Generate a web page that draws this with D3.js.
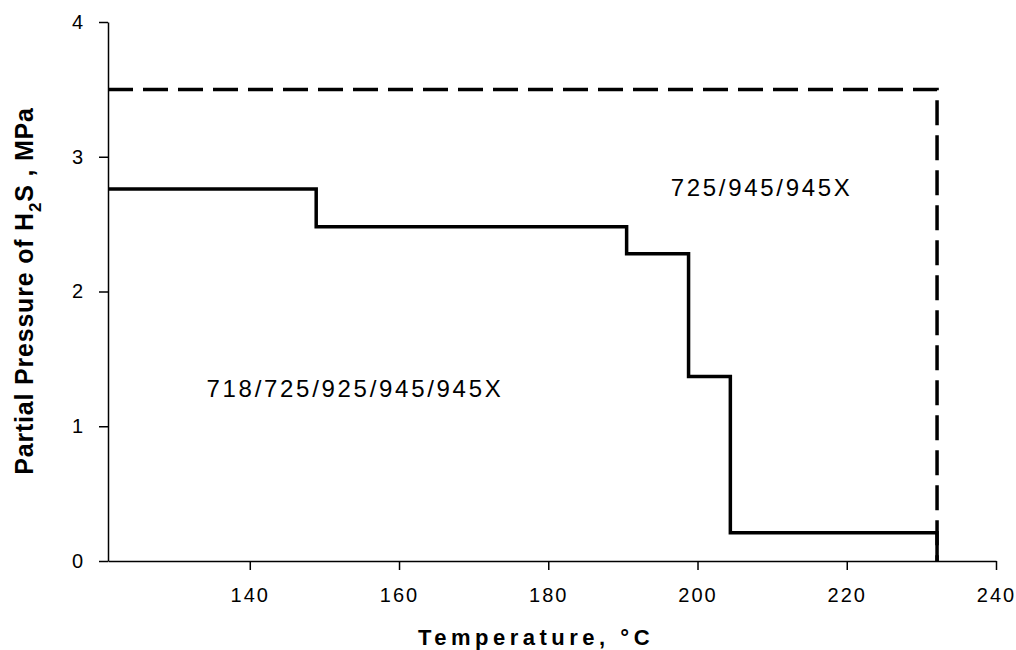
<!DOCTYPE html>
<html>
<head>
<meta charset="utf-8">
<script src="https://cdn.jsdelivr.net/npm/d3@7"></script>
<style>
  body { margin: 0; background: #fff; }
  text { font-family: "Liberation Sans", Arial, sans-serif; }
</style>
</head>
<body>
<div id="chart"></div>
<script>
// step boundary (solid): temperature breakpoints and pressure levels
const stepTemps = [121, 148.9, 190.5, 198.8, 204.4, 232.1];
const stepPress = [2.76, 2.48, 2.28, 1.37, 0.21];
// outer limit (dashed)
const limitTemps = [121, 232.1, 232.1];
const limitPress = [3.5, 3.5, 0];
const xTicks = [140, 160, 180, 200, 220, 240];
const yTicks = [0, 1, 2, 3, 4];
const regionLabels = [
  {t: 134.2, p: 1.22, text: "718/725/925/945/945X"},
  {t: 196.4, p: 2.71, text: "725/945/945X"}
];

let margin = {top: 22, right: 20, bottom: 89, left: 108},
  width = 1016 - margin.left - margin.right,
  height = 650 - margin.top - margin.bottom;

let svg = d3.select("#chart")
  .append("svg")
    .attr("width", 1016)
    .attr("height", 650)
  .append("g")
    .attr("transform", "translate(" + margin.left + "," + margin.top + ")");

let x = d3.scaleLinear().domain([121, 240]).range([0, width]);
let y = d3.scaleLinear().domain([0, 4]).range([height, 0]);

// axes
let xAxis = svg.append("g")
  .attr("transform", "translate(0," + height + ")")
  .call(d3.axisBottom(x).tickValues(xTicks).tickSize(9).tickSizeOuter(0).tickPadding(14));
let yAxis = svg.append("g")
  .call(d3.axisLeft(y).tickValues(yTicks).tickSize(9).tickSizeOuter(0).tickPadding(14).tickFormat(d3.format("d")));

[xAxis, yAxis].forEach(function(a) {
  a.select(".domain").attr("stroke", "#000").attr("stroke-width", 1.5);
  a.selectAll(".tick line").attr("stroke", "#000").attr("stroke-width", 1.5);
  a.selectAll(".tick text")
    .style("font-size", "20px")
    .style("letter-spacing", "2px")
    .attr("fill", "#000");
});
xAxis.selectAll(".tick text").attr("dy", "0.9em");

// step line
let stepPts = [];
stepPress.forEach(function(p, i) {
  stepPts.push([stepTemps[i], p]);
  stepPts.push([stepTemps[i + 1], p]);
});
stepPts.push([stepTemps[stepTemps.length - 1], 0]);

let line = d3.line()
  .x(function(d) { return x(d[0]); })
  .y(function(d) { return y(d[1]); });

svg.append("path")
  .attr("d", line(stepPts))
  .style("fill", "none")
  .style("stroke", "#000")
  .style("stroke-width", 3.5);

// dashed limit
svg.append("path")
  .attr("d", line(limitTemps.map(function(t, i) { return [t, limitPress[i]]; })))
  .style("fill", "none")
  .style("stroke", "#000")
  .style("stroke-width", 3.5)
  .style("stroke-dasharray", "25,10");

// region labels
svg.selectAll("regionLabel")
  .data(regionLabels).enter()
  .append("text")
    .attr("x", function(d) { return x(d.t); })
    .attr("y", function(d) { return y(d.p); })
    .style("font-size", "24px")
    .style("letter-spacing", "2.7px")
    .text(function(d) { return d.text; });

// axis titles
svg.append("text")
  .attr("x", 428)
  .attr("y", 623)
  .attr("text-anchor", "middle")
  .style("font-size", "22px")
  .style("font-weight", "bold")
  .style("letter-spacing", "4.5px")
  .text("Temperature, \u00B0C");

let yt = svg.append("text")
  .attr("transform", "translate(-75," + (269) + ") rotate(-90)")
  .attr("text-anchor", "middle")
  .style("font-size", "25px")
  .style("font-weight", "bold")
  .style("letter-spacing", "0.8px");
yt.append("tspan").text("Partial Pressure of H");
yt.append("tspan").attr("dy", 8).style("font-size", "17px").text("2");
yt.append("tspan").attr("dy", -8).text("S , MPa");
</script>
</body>
</html>
